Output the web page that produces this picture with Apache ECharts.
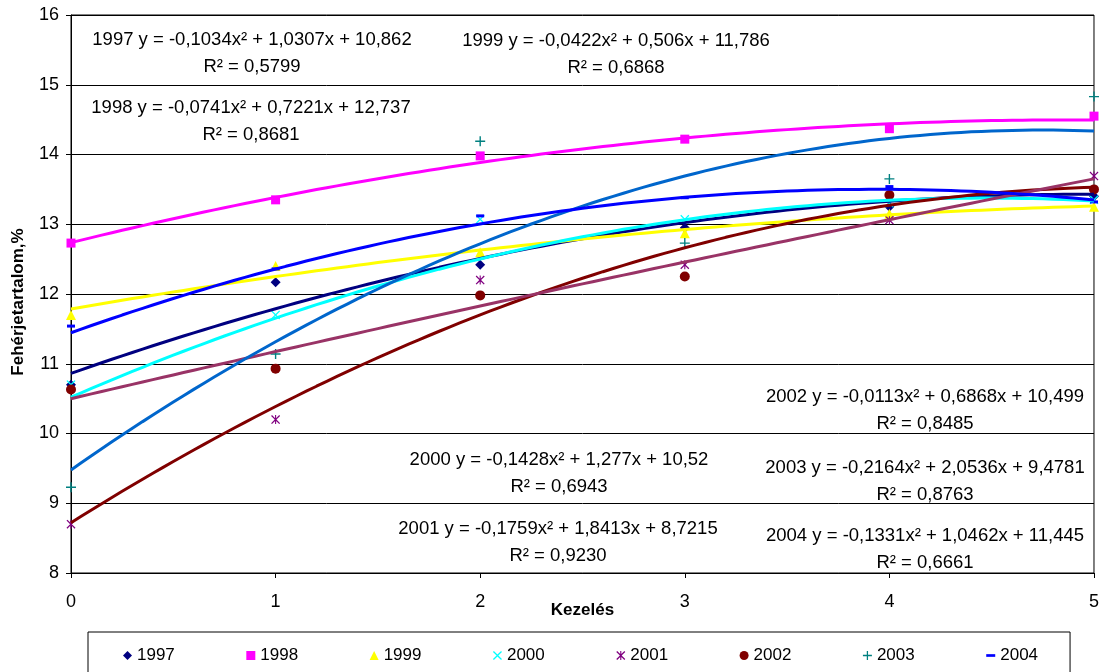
<!DOCTYPE html>
<html><head><meta charset="utf-8">
<script src="https://cdn.jsdelivr.net/npm/echarts/dist/echarts.min.js"></script>
<style>html,body{margin:0;padding:0;background:#fff}#c{width:1102px;height:672px}</style>
</head><body><div id="c"></div>
<script>
// ---- data ----
const treatments = [0, 1, 2, 3, 4, 5];
const years = ['1997', '1998', '1999', '2000', '2001', '2002', '2003', '2004'];
const y1997 = [10.70, 12.17, 12.42, 12.95, 13.25, 13.40];
const y1998 = [12.73, 13.35, 13.98, 14.22, 14.37, 14.55];
const y1999 = [11.70, 12.40, 12.60, 12.87, 13.15, 13.25];
const y2000 = [10.70, 11.70, 13.07, 13.07, 13.30, 13.35];
const y2001 = [8.70, 10.20, 12.20, 12.42, 13.06, 13.69];
const y2002 = [10.63, 10.93, 11.98, 12.25, 13.42, 13.50];
const y2003 = [9.23, 11.14, 14.19, 12.73, 13.65, 14.83];
const y2004 = [11.54, 12.36, 13.12, 13.38, 13.54, 13.32];
// polynomial trendline coefficients (y = a x^2 + b x + c) as printed on the chart
const coefA = [-0.1034, -0.0741, -0.0422, -0.1428, -0.1759, -0.0113, -0.2164, -0.1331];
const coefB = [1.0307, 0.7221, 0.506, 1.277, 1.8413, 0.6868, 2.0536, 1.0462];
const coefC = [10.862, 12.737, 11.786, 10.52, 8.7215, 10.499, 9.4781, 11.445];
const rSquared = ['0,5799', '0,8681', '0,6868', '0,6943', '0,9230', '0,8485', '0,8763', '0,6661'];

// ---- styles ----
const values = [y1997, y1998, y1999, y2000, y2001, y2002, y2003, y2004];
const markerColors = ['#000080', '#FF00FF', '#FFFF00', '#00FFFF', '#800080', '#800000', '#008080', '#0000FF'];
const trendColors = ['#000080', '#FF00FF', '#FFFF00', '#00FFFF', '#800000', '#993366', '#0066CC', '#0000FF'];
const X_PATH = 'path://M1,0L5,4L9,0L10,1L6,5L10,9L9,10L5,6L1,10L0,9L4,5L0,1Z';
const AST_PATH = 'path://M1,0L5,4L9,0L10,1L6,5L10,9L9,10L5,6L1,10L0,9L4,5L0,1Z M4.4,0L5.6,0L5.6,10L4.4,10Z';
const PLUS_PATH = 'path://M4.3,0L5.7,0L5.7,4.3L10,4.3L10,5.7L5.7,5.7L5.7,10L4.3,10L4.3,5.7L0,5.7L0,4.3L4.3,4.3Z';
const DASH_PATH = 'path://M0,0L10,0L10,3L0,3Z';
const symbols = ['diamond', 'rect', 'triangle', X_PATH, AST_PATH, 'circle', PLUS_PATH, 'rect'];
const symbolSizes = [10, 9, 10, 9, 9, 10, 10, [8, 3]];
const FONT = '"Liberation Sans", Arial, sans-serif';

// annotation block centres (pixels)
const notePos = [[252, 53], [251, 121], [616, 54], [559, 473], [558, 542], [925, 410], [925, 481], [925, 549]];

const fmt = v => String(v).replace('.', ',');

const series = [];
years.forEach((yr, i) => {
  series.push({
    name: yr, type: 'scatter', z: 2,
    symbol: symbols[i], symbolSize: symbolSizes[i],
    itemStyle: { color: markerColors[i], opacity: 1 },
    data: treatments.map((t, k) => [t, values[i][k]])
  });
});
years.forEach((yr, i) => {
  const pts = [];
  for (let s = 0; s <= 100; s++) {
    const x = s * 0.05;
    pts.push([x, coefA[i] * x * x + coefB[i] * x + coefC[i]]);
  }
  series.push({
    name: yr + ' trend', type: 'line', z: 3, showSymbol: false, silent: true,
    lineStyle: { color: trendColors[i], width: 3 }, itemStyle: { color: trendColors[i] },
    data: pts
  });
});

const graphics = years.map((yr, i) => ({
  type: 'text', x: notePos[i][0], y: notePos[i][1], z: 10,
  style: {
    text: yr + ' y = ' + fmt(coefA[i]) + 'x² + ' + fmt(coefB[i]) + 'x + ' + fmt(coefC[i]) + '\nR² = ' + rSquared[i],
    align: 'center', verticalAlign: 'middle', textAlign: 'center', textVerticalAlign: 'middle',
    fontSize: 18.5, fontFamily: FONT, fill: '#000', lineHeight: 27
  }
}));

const chart = echarts.init(document.getElementById('c'), null, { renderer: 'canvas' });
chart.setOption({
  animation: false,
  backgroundColor: '#fff',
  grid: { left: 71, right: 5, top: 15, bottom: 99, show: true, borderColor: '#000', borderWidth: 1, backgroundColor: 'transparent' },
  xAxis: {
    type: 'value', min: 0, max: 5, interval: 1,
    name: 'Kezelés', nameLocation: 'middle', nameGap: 29, nameMoveOverlap: false,
    nameTextStyle: { fontSize: 17, fontWeight: 'bold', fontFamily: FONT, color: '#000' },
    axisLine: { lineStyle: { color: '#000', width: 1 } },
    axisTick: { show: true, length: 5, lineStyle: { color: '#000' } },
    axisLabel: { fontSize: 18, fontFamily: FONT, color: '#000', margin: 20 },
    splitLine: { show: false }
  },
  yAxis: {
    type: 'value', min: 8, max: 16, interval: 1,
    name: 'Fehérjetartalom,%', nameLocation: 'middle', nameGap: 44, nameRotate: 90, nameMoveOverlap: false,
    nameTextStyle: { fontSize: 17, fontWeight: 'bold', fontFamily: FONT, color: '#000', padding: [0, 16, 0, 0] },
    axisLine: { show: true, lineStyle: { color: '#000', width: 1 } },
    axisTick: { show: true, length: 5, lineStyle: { color: '#000' } },
    axisLabel: { fontSize: 18, fontFamily: FONT, color: '#000', margin: 12 },
    splitLine: { show: true, lineStyle: { color: '#000', width: 1 } }
  },
  legend: {
    data: years.map((yr, i) => i === 7 ? { name: yr, icon: DASH_PATH } : { name: yr }),
    left: 88, top: 632, orient: 'horizontal',
    itemWidth: 9, itemHeight: 9, itemGap: 71.5,
    padding: [15, 32, 15, 35],
    borderColor: '#000', borderWidth: 1, backgroundColor: '#fff',
    textStyle: { fontSize: 17, fontFamily: FONT, color: '#000' },
    selectedMode: false
  },
  graphic: graphics,
  series: series
});
</script>
</body></html>
